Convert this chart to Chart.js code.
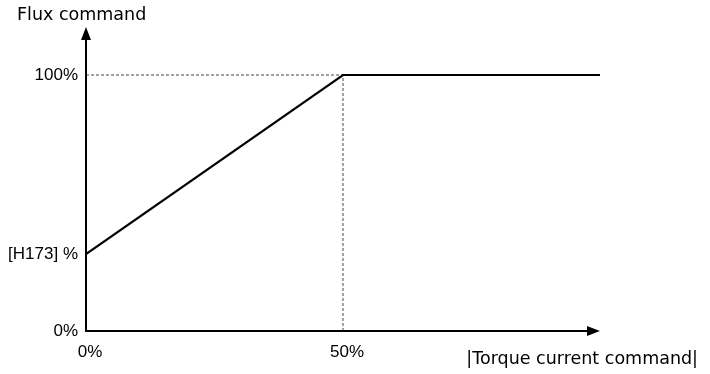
<!DOCTYPE html>
<html><head><meta charset="utf-8">
<style>html,body{margin:0;padding:0;background:#fff;} #wrap{width:710px;height:374px;position:relative;}</style>
<script src="https://cdn.jsdelivr.net/npm/chart.js@4"></script>
</head><body><div id="wrap"><canvas id="c"></canvas></div>
<script>
const chartTitle = 'Flux command';
const xAxisTitle = '|Torque current command|';
const xTickValues = [0, 50];
const xTickLabels = ['0%', '50%'];
const yTickValues = [0, 30, 100];
const yTickLabels = ['0%', '[H173] %', '100%'];
const fluxX = [0, 50, 100];
const fluxY = [30, 100, 100];
const guideHX = [0, 50];
const guideHY = [100, 100];
const guideVX = [50, 50];
const guideVY = [0, 100];
const xRange = [0, 119.07];
const yRange = [0, 118.75];
const xAxisEnd = 100;

const pts = (xs, ys) => xs.map((v, i) => ({x: v, y: ys[i]}));

const axisArrows = {
  id: 'axisArrows',
  afterLayout(chart) {
    if (chart.titleBlock) { chart.titleBlock.left = 17; }
  },
  afterDatasetsDraw(chart) {
    const {ctx, scales: {x, y}} = chart;
    const x0 = x.getPixelForValue(xRange[0]);
    const y0 = y.getPixelForValue(yRange[0]);
    const xEnd = x.getPixelForValue(xAxisEnd);
    const yEnd = y.getPixelForValue(yRange[1]);
    ctx.save();
    ctx.strokeStyle = '#000';
    ctx.fillStyle = '#000';
    ctx.lineWidth = 2;
    ctx.beginPath();
    ctx.moveTo(x0 - 1, y0);
    ctx.lineTo(xEnd - 10, y0);
    ctx.moveTo(x0, y0 + 1);
    ctx.lineTo(x0, yEnd + 10);
    ctx.stroke();
    ctx.beginPath();
    ctx.moveTo(xEnd, y0);
    ctx.lineTo(xEnd - 13, y0 - 5);
    ctx.lineTo(xEnd - 13, y0 + 5);
    ctx.closePath();
    ctx.fill();
    ctx.beginPath();
    ctx.moveTo(x0, yEnd);
    ctx.lineTo(x0 - 5, yEnd + 13);
    ctx.lineTo(x0 + 5, yEnd + 13);
    ctx.closePath();
    ctx.fill();
    ctx.restore();
  }
};

const tickFont = {family: '"Liberation Sans", Arial, sans-serif', size: 17};
const textFont = {family: '"DejaVu Sans", sans-serif', size: 17.5, weight: 'normal'};

new Chart(document.getElementById('c'), {
  type: 'scatter',
  data: {
    datasets: [
      {data: pts(fluxX, fluxY), showLine: true, borderColor: '#000', borderWidth: 2.2, pointRadius: 0, order: 0},
      {data: pts(guideHX, guideHY), showLine: true, borderColor: '#444', borderWidth: 1, borderDash: [3, 2], pointRadius: 0, order: 1},
      {data: pts(guideVX, guideVY), showLine: true, borderColor: '#444', borderWidth: 1, borderDash: [3, 2], pointRadius: 0, order: 1}
    ]
  },
  options: {
    responsive: true,
    maintainAspectRatio: false,
    animation: false,
    devicePixelRatio: 1,
    layout: {padding: {left: 4, right: 12, top: 0, bottom: 0}},
    plugins: {
      legend: {display: false},
      tooltip: {enabled: false},
      title: {
        display: true, text: chartTitle, align: 'start', color: '#000',
        font: textFont,
        padding: {top: 5, bottom: 1}
      }
    },
    scales: {
      x: {
        type: 'linear', min: xRange[0], max: xRange[1],
        grid: {display: false}, border: {display: false},
        afterBuildTicks: s => { s.ticks = xTickValues.map(v => ({value: v})); },
        afterFit: s => { s.height = 43; },
        ticks: {
          autoSkip: false, maxRotation: 0, color: '#000', font: tickFont,
          labelOffset: 4, padding: 3,
          callback: (v, i) => xTickLabels[i]
        },
        title: {
          display: true, text: xAxisTitle, align: 'end', color: '#000',
          font: textFont,
          padding: {top: 0, bottom: 4}
        }
      },
      y: {
        type: 'linear', min: yRange[0], max: yRange[1],
        grid: {display: false}, border: {display: false},
        afterBuildTicks: s => { s.ticks = yTickValues.map(v => ({value: v})); },
        afterFit: s => { s.width = 82; },
        ticks: {
          autoSkip: false, color: '#000', font: tickFont, padding: 0,
          callback: (v, i) => yTickLabels[i]
        }
      }
    }
  },
  plugins: [axisArrows]
});
</script>
</body></html>
